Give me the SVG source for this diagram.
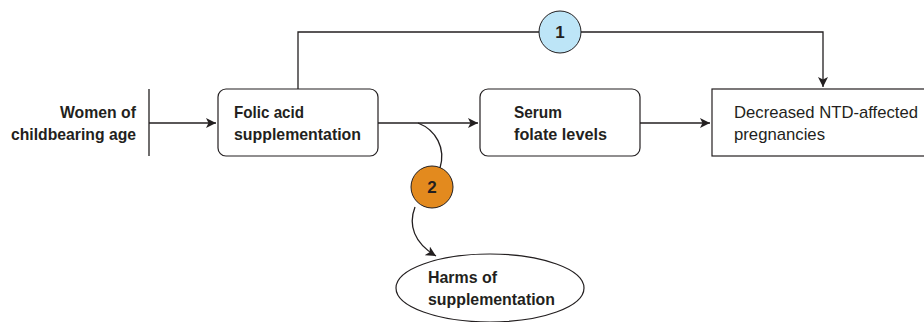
<svg xmlns="http://www.w3.org/2000/svg" width="924" height="322" viewBox="0 0 924 322">
<defs>
<style>
.t{font-family:"Liberation Sans",Arial,sans-serif;font-size:17px;fill:#231f20}
.b{font-weight:bold}
.box{fill:#fff;stroke:#231f20;stroke-width:1.2}
.ln{fill:none;stroke:#231f20;stroke-width:1.3}
</style>
<marker id="ah" viewBox="0 0 10 10" refX="10" refY="5" markerWidth="10" markerHeight="10" markerUnits="userSpaceOnUse" orient="auto">
<path d="M0,0 L10,5 L0,10 L2.5,5 Z" fill="#231f20"/>
</marker>
</defs>
<rect width="924" height="322" fill="#fff"/>
<g id="connectors">
<line class="ln" x1="149" y1="89" x2="149" y2="156"/>
<line class="ln" x1="149" y1="123" x2="216" y2="123" marker-end="url(#ah)"/>
<line class="ln" x1="378" y1="123" x2="478" y2="123" marker-end="url(#ah)"/>
<line class="ln" x1="640" y1="123" x2="710" y2="123" marker-end="url(#ah)"/>
<polyline class="ln" points="298,89 298,32 823,32 823,87" marker-end="url(#ah)"/>
<path class="ln" d="M418,123 C436,130 446,148 440,168"/>
<path class="ln" d="M415,207 C408,225 414,243 436,256" marker-end="url(#ah)"/>
</g>
<g id="women">
<text class="t b" x="136" y="118" text-anchor="end" textLength="76" lengthAdjust="spacingAndGlyphs">Women of</text>
<text class="t b" x="136" y="140" text-anchor="end" textLength="125" lengthAdjust="spacingAndGlyphs">childbearing age</text>
</g>
<g id="folic">
<rect class="box" x="218" y="89" width="160" height="67" rx="8"/>
<text class="t b" x="234" y="118" textLength="70" lengthAdjust="spacingAndGlyphs">Folic acid</text>
<text class="t b" x="234" y="140" textLength="127" lengthAdjust="spacingAndGlyphs">supplementation</text>
</g>
<g id="serum">
<rect class="box" x="480" y="89" width="160" height="67" rx="8"/>
<text class="t b" x="514" y="118" textLength="48" lengthAdjust="spacingAndGlyphs">Serum</text>
<text class="t b" x="514" y="140" textLength="93" lengthAdjust="spacingAndGlyphs">folate levels</text>
</g>
<g id="decreased">
<rect class="box" x="712" y="89" width="220" height="67"/>
<text class="t" x="734" y="118" textLength="184" lengthAdjust="spacingAndGlyphs">Decreased NTD-affected</text>
<text class="t" x="734" y="140" textLength="91" lengthAdjust="spacingAndGlyphs">pregnancies</text>
</g>
<g id="harms">
<ellipse class="box" cx="490" cy="288" rx="94" ry="34"/>
<text class="t b" x="428" y="283" textLength="69" lengthAdjust="spacingAndGlyphs">Harms of</text>
<text class="t b" x="428" y="305" textLength="127" lengthAdjust="spacingAndGlyphs">supplementation</text>
</g>
<g id="kq1">
<circle cx="560" cy="32" r="21" fill="#bde5f7" stroke="#231f20" stroke-width="1"/>
<text class="t b" x="560" y="38" text-anchor="middle">1</text>
</g>
<g id="kq2">
<circle cx="432" cy="187" r="21" fill="#e38a1e" stroke="#231f20" stroke-width="1"/>
<text class="t b" x="432" y="193" text-anchor="middle">2</text>
</g>
</svg>
